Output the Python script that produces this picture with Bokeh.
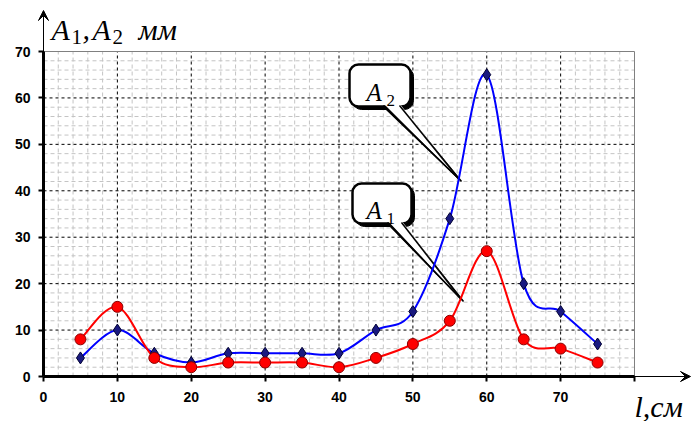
import numpy as np
from bokeh.plotting import figure
from bokeh.models import FixedTicker, Label, Arrow, VeeHead, Range1d
from bokeh.embed import file_html
from bokeh.resources import INLINE

# ---- data ----
l_cm = [5, 10, 15, 20, 25, 30, 35, 40, 45, 50, 55, 60, 65, 70, 75]
a1 = [8, 15, 4, 2, 3, 3, 3, 2, 4, 7, 12, 27, 8, 6, 3]
a2 = [4, 10, 5, 3, 5, 5, 5, 5, 10, 14, 34, 65, 20, 14, 7]
x_ticks = [0, 10, 20, 30, 40, 50, 60, 70, 80]
y_ticks = [0, 10, 20, 30, 40, 50, 60, 70]
x_major_grid = [10, 20, 30, 40, 50, 60, 70]
y_major_grid = [10, 20, 30, 40, 50, 60]
x_minor = [v for v in range(2, 80, 2) if v % 10]
y_minor = [v for v in range(2, 70, 2) if v % 10]
X_MAX, Y_MAX = 80, 70

# picture-pixel -> data helpers (plot area: x 43..634, y 51..376 in the picture)
X0, Y0 = 43.0, 376.0
XS, YS = 591.0 / 80.0, 325.0 / 70.0
def sx(px): return (px - X0) / XS
def sy(py): return (Y0 - py) / YS

W, H = 692, 421
p = figure(width=W, height=H,
           x_range=Range1d(sx(0), sx(W)), y_range=Range1d(sy(H), sy(0)),
           output_backend="svg", toolbar_location=None,
           min_border_left=0, min_border_right=0, min_border_top=0, min_border_bottom=0)
p.background_fill_color = "white"
p.border_fill_color = "white"
p.outline_line_color = None
p.xgrid.visible = False
p.ygrid.visible = False

# ---- grid (within the plot area only) ----
p.segment(x0=x_minor, y0=[0] * len(x_minor), x1=x_minor, y1=[Y_MAX] * len(x_minor),
          line_color="#c4c4c4", line_dash="4 3", line_width=1)
p.segment(x0=[0] * len(y_minor), y0=y_minor, x1=[X_MAX] * len(y_minor), y1=y_minor,
          line_color="#c4c4c4", line_dash="4 3", line_width=1)
p.segment(x0=x_major_grid, y0=[0] * len(x_major_grid), x1=x_major_grid, y1=[Y_MAX] * len(x_major_grid),
          line_color="black", line_dash="3 3", line_width=1)
p.segment(x0=[0] * len(y_major_grid), y0=y_major_grid, x1=[X_MAX] * len(y_major_grid), y1=y_major_grid,
          line_color="black", line_dash="3 3", line_width=1)
p.line([0, X_MAX, X_MAX], [Y_MAX, Y_MAX, 0], line_color="#808080", line_width=1)

# ---- axes at fixed locations ----
p.xaxis.fixed_location = 0
p.yaxis.fixed_location = 0
p.xaxis.bounds = (0, X_MAX)
p.yaxis.bounds = (0, Y_MAX)
p.xaxis.ticker = FixedTicker(ticks=x_ticks)
p.yaxis.ticker = FixedTicker(ticks=y_ticks)
p.xaxis.major_label_overrides = {80: ""}
for ax in (p.xaxis, p.yaxis):
    ax.axis_line_width = 3
    ax.axis_line_color = "black"
    ax.major_tick_line_width = 2
    ax.major_tick_line_color = "black"
    ax.major_tick_in = 0
    ax.major_tick_out = 5
    ax.minor_tick_line_color = None
    ax.major_label_text_font = "Liberation Sans"
    ax.major_label_text_font_style = "bold"
    ax.major_label_text_font_size = "14px"
    ax.major_label_text_color = "black"
p.xaxis.major_label_standoff = 10
p.yaxis.major_label_standoff = 8

# ---- callouts ----
def callout(box, base, tip):
    l, r, t, b = box
    ox, oy = 3 / XS, 3 / YS
    # shadow
    p.quad(left=[sx(l) + ox], right=[sx(r) + ox], top=[sy(t) - oy], bottom=[sy(b) - oy],
           fill_color="black", line_color="black", border_radius=9)
    p.patch([sx(base[0]) + ox, sx(tip[0]) + ox, sx(base[1]) + ox],
            [sy(base[2]) - oy, sy(tip[1]) - oy, sy(base[2]) - oy],
            fill_color="black", line_color="black", line_width=1.5)
    # body
    p.quad(left=[sx(l)], right=[sx(r)], top=[sy(t)], bottom=[sy(b)],
           fill_color="white", line_color="black", line_width=2.5, border_radius=9)
    p.patch([sx(base[0]), sx(tip[0]), sx(base[1])],
            [sy(base[2] - 3), sy(tip[1]), sy(base[2] - 3)],
            fill_color="white", line_color=None)
    p.line([sx(base[0]), sx(tip[0])], [sy(base[2] - 1), sy(tip[1])], line_color="black", line_width=1.5)
    p.line([sx(base[1]), sx(tip[0])], [sy(base[2] - 1), sy(tip[1])], line_color="black", line_width=1.5)

callout((349, 410, 64, 106), (383, 399, 106), (458, 178))
callout((352, 411, 183, 223), (387, 401, 223), (460, 298))

# ---- smoothed curves ----
def bez(xs, ys):
    P = np.column_stack([xs, ys]).astype(float)
    E = np.vstack([P[0], P, P[-1]])
    out = {k: [] for k in ("x0", "y0", "x1", "y1", "cx0", "cy0", "cx1", "cy1")}
    for i in range(len(P) - 1):
        q0, q1, q2, q3 = E[i], E[i + 1], E[i + 2], E[i + 3]
        c1 = q1 + (q2 - q0) / 6.0
        c2 = q2 - (q3 - q1) / 6.0
        out["x0"].append(q1[0]); out["y0"].append(q1[1])
        out["x1"].append(q2[0]); out["y1"].append(q2[1])
        out["cx0"].append(c1[0]); out["cy0"].append(c1[1])
        out["cx1"].append(c2[0]); out["cy1"].append(c2[1])
    return out

p.bezier(**bez(l_cm, a2), line_color="#0000ff", line_width=2)
p.bezier(**bez(l_cm, a1), line_color="#ff0000", line_width=2)
p.scatter(l_cm, a2, marker="diamond", size=12, fill_color="#1a1a80", line_color="#000033", line_width=1)
p.scatter(l_cm, a1, marker="circle", size=11, fill_color="#ff0000", line_color="#8b0000", line_width=1)

# ---- arrows on the axes ----
p.add_layout(Arrow(end=VeeHead(size=10, fill_color="black", line_color="black", line_width=1),
                   x_start=0, y_start=69, x_end=0, y_end=sy(10), line_width=1, line_color="black"))
p.add_layout(Arrow(end=VeeHead(size=10, fill_color="black", line_color="black", line_width=1),
                   x_start=79, y_start=0, x_end=sx(690), y_end=0, line_width=1, line_color="black"))

# ---- texts ----
def lab(px, py, text, size, italic=True):
    p.add_layout(Label(x=sx(px), y=sy(py), text=text, text_font="Liberation Serif",
                       text_font_style="italic" if italic else "normal",
                       text_font_size=size, text_color="black",
                       text_baseline="alphabetic", text_align="left"))

# y-axis title
lab(51, 29, "A", "30px")
lab(71, 36, "1", "21px", italic=False)
lab(82, 29, ",", "30px")
lab(92, 29, "A", "30px")
lab(112, 36, "2", "21px", italic=False)
lab(138, 29, "мм", "30px")
# x-axis title
lab(634, 406, "l,см", "30px")
# callout texts
lab(366, 92, "A", "25px")
lab(386, 100, "2", "17px", italic=False)
lab(366, 210, "A", "25px")
lab(386, 218, "1", "17px", italic=False)

open("out.html", "w").write(file_html(p, INLINE))
